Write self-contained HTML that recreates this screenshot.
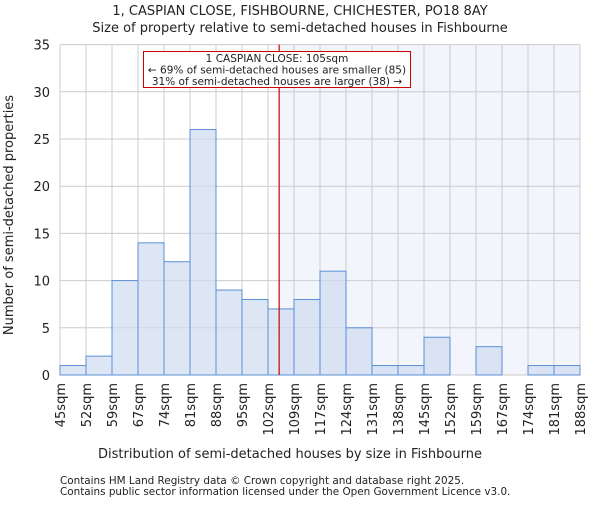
<!DOCTYPE html>
<html><head><meta charset="utf-8"><style>
body{margin:0;background:#fff;}
svg text{font-family:"DejaVu Sans","Liberation Sans",sans-serif;fill:#222;}
</style></head><body>
<svg id="c" width="600" height="500" xmlns="http://www.w3.org/2000/svg">
<text x="300" y="15" font-size="13" text-anchor="middle">1, CASPIAN CLOSE, FISHBOURNE, CHICHESTER, PO18 8AY</text>
<text x="300" y="32" font-size="13" text-anchor="middle">Size of property relative to semi-detached houses in Fishbourne</text>
<g id="plot"></g>
<text x="290" y="458" font-size="13" text-anchor="middle">Distribution of semi-detached houses by size in Fishbourne</text>
<text transform="translate(13,215) rotate(-90)" font-size="13" text-anchor="middle">Number of semi-detached properties</text>
<text x="60" y="484" font-size="10.4">Contains HM Land Registry data © Crown copyright and database right 2025.</text>
<text x="60" y="495" font-size="10.4">Contains public sector information licensed under the Open Government Licence v3.0.</text>
</svg>
<script>
const categories=["45sqm","52sqm","59sqm","67sqm","74sqm","81sqm","88sqm","95sqm","102sqm","109sqm","117sqm","124sqm","131sqm","138sqm","145sqm","152sqm","159sqm","167sqm","174sqm","181sqm","188sqm"];
const counts=[1,2,10,14,12,26,9,8,7,8,11,5,1,1,4,0,3,0,1,1];
const yTicks=[0,5,10,15,20,25,30,35];
const markerIndex=8+3/7;
const NS="http://www.w3.org/2000/svg";
const L=60,R=580,T=44.6,B=375,yMax=35;
const nb=counts.length,bw=(R-L)/nb;
const xs=i=>L+i*bw, ys=v=>B-(v/yMax)*(B-T);
const g=document.getElementById('plot');
function mk(t,a){const e=document.createElementNS(NS,t);for(const k in a)e.setAttribute(k,a[k]);g.appendChild(e);return e;}
let e;
const mx=xs(markerIndex);
e=mk('rect',{x:mx,y:T,width:R-mx,height:B-T,fill:'#f3f5fc'});


yTicks.forEach(v=>{
 e=mk('line',{x1:L,x2:R,y1:ys(v),y2:ys(v),stroke:'#cccccc','stroke-width':1});
 
 
 e=mk('text',{x:L-10,y:ys(v)+5,'font-size':13,'text-anchor':'end'});e.textContent=v;
 
 
});
categories.forEach((c,i)=>{
 e=mk('line',{x1:xs(i),x2:xs(i),y1:T,y2:B,stroke:'#cccccc','stroke-width':1});
 
 
 const x=xs(i);
 e=mk('text',{transform:`translate(${x+5},${B+8}) rotate(-90)`,'font-size':13,'text-anchor':'end'});e.textContent=c;
 
 
});
counts.forEach((v,i)=>{
 if(v<=0)return;
 e=mk('rect',{x:xs(i),y:ys(v),width:bw,height:B-ys(v),fill:'rgba(207,220,240,0.7)',stroke:'#5b8ed8','stroke-width':1});
 
 
});
e=mk('line',{x1:mx,x2:mx,y1:T,y2:B,stroke:'#cc0000','stroke-width':1.2});


e=mk('rect',{x:143.5,y:51.5,width:267,height:36,fill:'#fff',stroke:'#cc0000','stroke-width':1});


["1 CASPIAN CLOSE: 105sqm","← 69% of semi-detached houses are smaller (85)","31% of semi-detached houses are larger (38) →"].forEach((t,i)=>{
 e=mk('text',{x:277,y:62+i*11.5,'font-size':10.5,'text-anchor':'middle'});e.textContent=t;
 
 
});
</script>
</body></html>
